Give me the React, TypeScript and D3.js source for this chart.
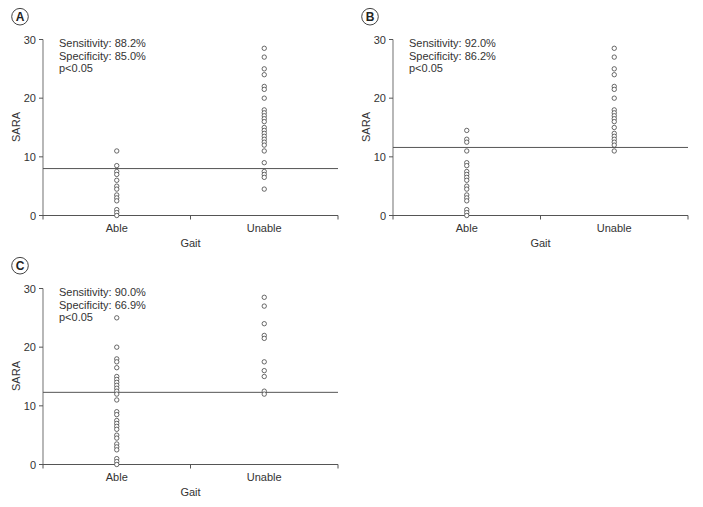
import React from "react";
import * as d3 from "d3";

const categories = ["Able", "Unable"];
const yTicks = [0, 10, 20, 30];

const panelLabels = ["A", "B", "C"];
const sensitivity = ["88.2%", "92.0%", "90.0%"];
const specificity = ["85.0%", "86.2%", "66.9%"];
const pValues = ["p<0.05", "p<0.05", "p<0.05"];
const cutoffs = [8, 11.6, 12.3];

const ableA = [11, 8.5, 7.5, 7, 6, 5, 4.5, 3.5, 3, 2.5, 1, 0.5, 0];
const unableA = [28.5, 27, 25, 24, 22, 21.5, 20, 18, 17.5, 17, 16.5, 16, 15, 14.5, 14, 13.5, 13, 12.5, 12, 11, 9, 7.5, 7, 6.5, 4.5];
const ableB = [14.5, 13, 12.5, 11, 9, 8.5, 7.5, 7, 6.5, 6, 5, 4.5, 3.5, 3, 2.5, 1, 0.5, 0];
const unableB = [28.5, 27, 25, 24, 22, 21.5, 20, 18, 17.5, 17, 16.5, 16, 15, 14, 13.5, 13, 12.5, 12, 11];
const ableC = [25, 20, 18, 17.5, 16.5, 15, 14.5, 14, 13.5, 13, 12.5, 12, 11, 9, 8.5, 7.5, 7, 6.5, 6, 5, 4.5, 3.5, 3, 2.5, 1, 0.5, 0];
const unableC = [28.5, 27, 24, 22, 21.5, 17.5, 16, 15, 12.5, 12];

const seriesAble = [ableA, ableB, ableC];
const seriesUnable = [unableA, unableB, unableC];

const offsets: [number, number][] = [[0, 0], [350, 0], [0, 249]];

const FONT = "'Liberation Sans', Arial, sans-serif";
const TXT = "#333";
const LINE = "#555";

function Panel({ i }: { i: number }) {
  const x0 = 43, x1 = 338, yTop = 39.5, yBot = 215.5;
  const x = d3.scaleBand<string>().domain(categories).range([x0, x1]);
  const y = d3.scaleLinear().domain([0, 30]).range([yBot, yTop]);
  const [ox, oy] = offsets[i];
  const groups = [seriesAble[i], seriesUnable[i]];
  return (
    <g transform={`translate(${ox},${oy})`} fontFamily={FONT}>
      <circle cx={20} cy={16.7} r={8.3} fill="none" stroke="#444" strokeWidth={1} />
      <text x={20} y={20.8} textAnchor="middle" fontSize={12} fontWeight="bold" fill="#222">{panelLabels[i]}</text>
      {/* y axis */}
      <line x1={x0} x2={x0} y1={yTop} y2={yBot} stroke="#888" strokeWidth={1.2} />
      {yTicks.map((t) => (
        <g key={t}>
          <line x1={x0 - 4} x2={x0} y1={y(t)} y2={y(t)} stroke={LINE} />
          <text x={36} y={y(t) + 4} textAnchor="end" fontSize={11} fill={TXT}>{t}</text>
        </g>
      ))}
      {/* x axis */}
      <line x1={x0} x2={x1} y1={yBot} y2={yBot} stroke={LINE} />
      {[x0, (x0 + x1) / 2, x1].map((t, k) => (
        <line key={k} x1={t} x2={t} y1={yBot} y2={yBot + 4} stroke={LINE} />
      ))}
      {categories.map((c) => (
        <text key={c} x={x(c)! + x.bandwidth() / 2} y={232} textAnchor="middle" fontSize={11} fill={TXT}>{c}</text>
      ))}
      <text x={(x0 + x1) / 2} y={246.5} textAnchor="middle" fontSize={11} fill={TXT}>Gait</text>
      <text transform={`translate(20,127) rotate(-90)`} textAnchor="middle" fontSize={11} fill={TXT}>SARA</text>
      {/* stats */}
      <text x={59} y={47} fontSize={11} fill={TXT}>Sensitivity: {sensitivity[i]}</text>
      <text x={59} y={59.7} fontSize={11} fill={TXT}>Specificity: {specificity[i]}</text>
      <text x={59} y={72.4} fontSize={11} fill={TXT}>{pValues[i]}</text>
      {/* cutoff */}
      <line x1={x0} x2={x1} y1={y(cutoffs[i])} y2={y(cutoffs[i])} stroke={LINE} strokeWidth={1} />
      {groups.map((vals, g) =>
        vals.map((v, k) => (
          <circle key={`${g}-${k}`} cx={x(categories[g])! + x.bandwidth() / 2} cy={y(v)} r={2.2}
            fill="white" stroke="#444" strokeWidth={0.8} />
        ))
      )}
    </g>
  );
}

export default function App() {
  return (
    <svg width={703} height={507} style={{ position: "absolute", left: 0, top: 0, background: "white" }}>
      <rect width={703} height={507} fill="white" />
      {[0, 1, 2].map((i) => <Panel key={i} i={i} />)}
    </svg>
  );
}
